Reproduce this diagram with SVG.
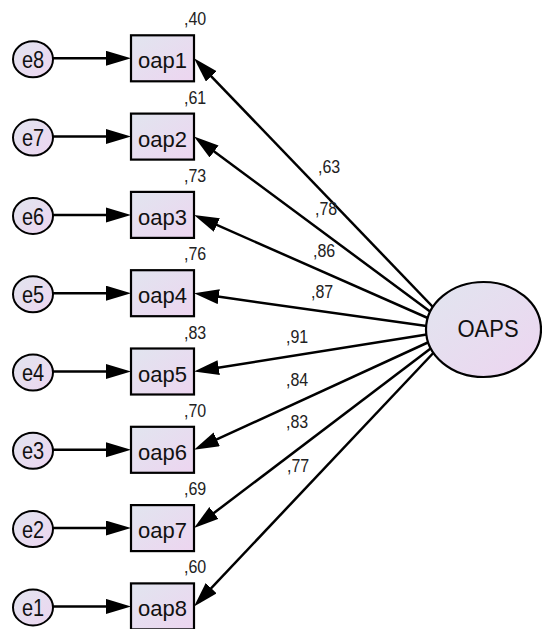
<svg xmlns="http://www.w3.org/2000/svg" width="542" height="629" viewBox="0 0 542 629">
<defs>
<linearGradient id="fillg" x1="0" y1="0" x2="1" y2="1">
<stop offset="0" stop-color="#e1e5ef"/>
<stop offset="1" stop-color="#edd5f0"/>
</linearGradient>
<marker id="ah" markerUnits="userSpaceOnUse" markerWidth="26" markerHeight="16" refX="15" refY="7.5" orient="auto">
<path d="M0,0 L25,7.5 L0,15 z" fill="#000"/>
</marker>
<style>
.box{fill:url(#fillg);stroke:#000;stroke-width:2.2}
.err{fill:url(#fillg);stroke:#000;stroke-width:2}
.lat{fill:url(#fillg);stroke:#000;stroke-width:2.2}
.lbl{font-family:"Liberation Sans",Arial,sans-serif;font-size:22px;fill:#111;text-anchor:middle}
.elbl{font-family:"Liberation Sans",Arial,sans-serif;font-size:20px;fill:#111;text-anchor:middle}
.num{font-family:"Liberation Sans",Arial,sans-serif;font-size:16px;fill:#222}
.con{stroke:#000;stroke-width:2.5;fill:none;marker-end:url(#ah)}
</style>
</defs>
<rect width="542" height="629" fill="#fff"/>
<g id="connectors">
<path class="con" d="M53,58.3 H121"/>
<path class="con" d="M53,136.6 H121"/>
<path class="con" d="M53,214.9 H121"/>
<path class="con" d="M53,293.2 H121"/>
<path class="con" d="M53,371.5 H121"/>
<path class="con" d="M53,449.8 H121"/>
<path class="con" d="M53,528.1 H121"/>
<path class="con" d="M53,606.4 H121"/>
<path class="con" d="M455,330 L200.93,65.51"/>
<path class="con" d="M455,330 L202.03,142.55"/>
<path class="con" d="M455,330 L203.15,218.94"/>
<path class="con" d="M455,330 L203.90,294.60"/>
<path class="con" d="M455,330 L203.88,369.93"/>
<path class="con" d="M455,330 L203.09,445.63"/>
<path class="con" d="M455,330 L201.97,522.05"/>
<path class="con" d="M455,330 L200.87,599.13"/>
<text class="num" transform="translate(318,173) scale(1,1.1)">,63</text>
<text class="num" transform="translate(315,215) scale(1,1.1)">,78</text>
<text class="num" transform="translate(313,257) scale(1,1.1)">,86</text>
<text class="num" transform="translate(311,298) scale(1,1.1)">,87</text>
<text class="num" transform="translate(286,343) scale(1,1.1)">,91</text>
<text class="num" transform="translate(286,386) scale(1,1.1)">,84</text>
<text class="num" transform="translate(286,428) scale(1,1.1)">,83</text>
<text class="num" transform="translate(287,472) scale(1,1.1)">,77</text>
</g>
<g id="OAPS">
<ellipse class="lat" cx="483.5" cy="329.5" rx="57.5" ry="47.5"/>
<text class="lbl" transform="translate(488,337) scale(1,1.08)">OAPS</text>
</g>
<g id="oap1"><rect class="box" x="131" y="35.3" width="63" height="46"/><text class="lbl" x="162.5" y="68.3">oap1</text><text class="num" transform="translate(184,25.3) scale(1,1.1)">,40</text></g>
<g id="oap2"><rect class="box" x="131" y="113.6" width="63" height="46"/><text class="lbl" x="162.5" y="146.6">oap2</text><text class="num" transform="translate(184,103.6) scale(1,1.1)">,61</text></g>
<g id="oap3"><rect class="box" x="131" y="191.9" width="63" height="46"/><text class="lbl" x="162.5" y="224.9">oap3</text><text class="num" transform="translate(184,181.9) scale(1,1.1)">,73</text></g>
<g id="oap4"><rect class="box" x="131" y="270.2" width="63" height="46"/><text class="lbl" x="162.5" y="303.2">oap4</text><text class="num" transform="translate(184,260.2) scale(1,1.1)">,76</text></g>
<g id="oap5"><rect class="box" x="131" y="348.5" width="63" height="46"/><text class="lbl" x="162.5" y="381.5">oap5</text><text class="num" transform="translate(184,338.5) scale(1,1.1)">,83</text></g>
<g id="oap6"><rect class="box" x="131" y="426.8" width="63" height="46"/><text class="lbl" x="162.5" y="459.8">oap6</text><text class="num" transform="translate(184,416.8) scale(1,1.1)">,70</text></g>
<g id="oap7"><rect class="box" x="131" y="505.1" width="63" height="46"/><text class="lbl" x="162.5" y="538.1">oap7</text><text class="num" transform="translate(184,495.1) scale(1,1.1)">,69</text></g>
<g id="oap8"><rect class="box" x="131" y="583.4" width="63" height="46"/><text class="lbl" x="162.5" y="616.4">oap8</text><text class="num" transform="translate(184,573.4) scale(1,1.1)">,60</text></g>
<g id="e8"><ellipse class="err" cx="33" cy="59.3" rx="20" ry="18"/><text class="elbl" transform="translate(33,67.9) scale(1,1.2)">e8</text></g>
<g id="e7"><ellipse class="err" cx="33" cy="137.6" rx="20" ry="18"/><text class="elbl" transform="translate(33,146.2) scale(1,1.2)">e7</text></g>
<g id="e6"><ellipse class="err" cx="33" cy="215.9" rx="20" ry="18"/><text class="elbl" transform="translate(33,224.5) scale(1,1.2)">e6</text></g>
<g id="e5"><ellipse class="err" cx="33" cy="294.2" rx="20" ry="18"/><text class="elbl" transform="translate(33,302.8) scale(1,1.2)">e5</text></g>
<g id="e4"><ellipse class="err" cx="33" cy="372.5" rx="20" ry="18"/><text class="elbl" transform="translate(33,381.1) scale(1,1.2)">e4</text></g>
<g id="e3"><ellipse class="err" cx="33" cy="450.8" rx="20" ry="18"/><text class="elbl" transform="translate(33,459.4) scale(1,1.2)">e3</text></g>
<g id="e2"><ellipse class="err" cx="33" cy="529.1" rx="20" ry="18"/><text class="elbl" transform="translate(33,537.7) scale(1,1.2)">e2</text></g>
<g id="e1"><ellipse class="err" cx="33" cy="607.4" rx="20" ry="18"/><text class="elbl" transform="translate(33,616) scale(1,1.2)">e1</text></g>
</svg>
